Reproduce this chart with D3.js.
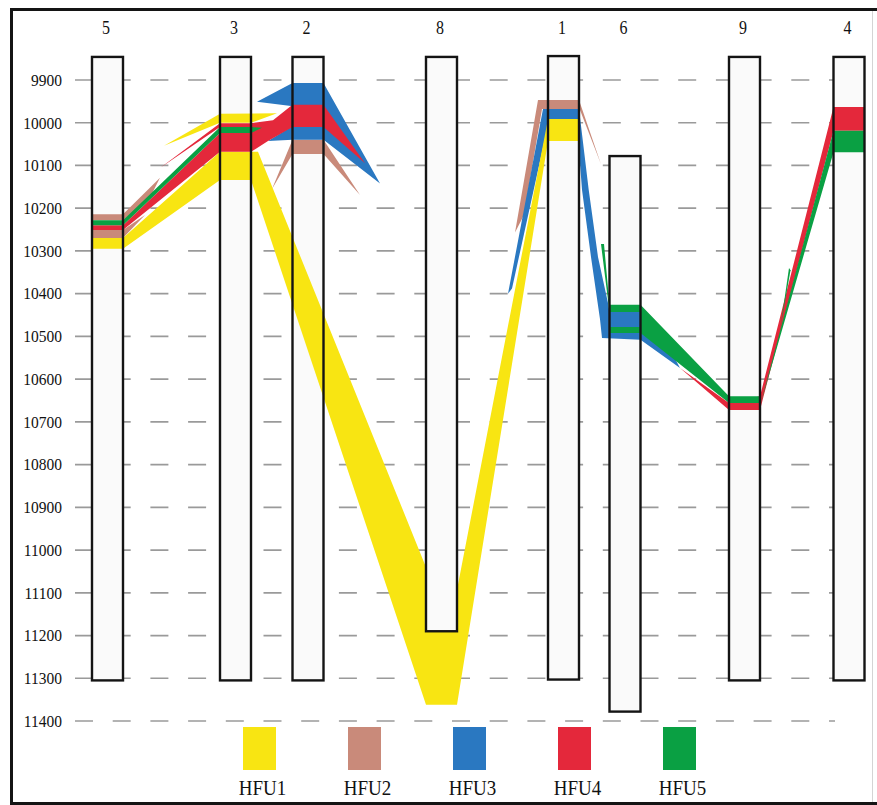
<!DOCTYPE html>
<html>
<head>
<meta charset="utf-8">
<script src="https://cdnjs.cloudflare.com/ajax/libs/d3/7.8.5/d3.min.js"></script>
<style>
  html, body { margin: 0; padding: 0; background: #ffffff; }
  svg { display: block; }
</style>
</head>
<body>
<svg id="chart" width="877" height="805"></svg>
<script>
// Wells along the section, in the order they are drawn left to right
const wellNames = ["5", "3", "2", "8", "1", "6", "9", "4"];
const wellDistanceKm = [0, 1.28, 2.005, 3.34, 4.56, 5.175, 6.37, 7.415];
const wellTopDepth = [9846, 9846, 9846, 9846, 9844, 10078, 9846, 9846];
const wellBottomDepth = [11305, 11305, 11305, 11190, 11303, 11378, 11305, 11305];

const depthTicks = [9900, 10000, 10100, 10200, 10300, 10400, 10500, 10600,
                    10700, 10800, 10900, 11000, 11100, 11200, 11300, 11400];

const unitNames = ["HFU1", "HFU2", "HFU3", "HFU4", "HFU5"];
const unitColors = ["#f8e512", "#c98a7a", "#2a78c1", "#e4283b", "#0aa043"];

// Flow-unit bodies: each polygon is a list of [position, depth].
// position is either a distance in km or a well side ("3L" = left side of well 3).
const hfu1 = [
  [["5L",10270],["5R",10270],["3L",10068],["3R",10068],[1.505,10068],["8L",11040],
   ["8L",11190],["8R",11190],["8R",11093],["1L",9991],["1R",9991],["1R",10043],
   ["1L",10043],["8R",11362],["8L",11362],["3R",10134],["3L",10134],["5R",10295],["5L",10295]],
  [[0.565,10054],["3L",9979],[1.695,9978],["3R",10000],["3L",10000]]
];
const hfu2 = [
  [["5L",10214],["5R",10214],[0.525,10129],[0.425,10175],["5R",10228],["5L",10228]],
  [["5L",10251],["5R",10251],[0.375,10216],["5R",10270],["5L",10270]],
  [[1.645,10155],["2L",10040],["2R",10040],[2.525,10169],["2R",10073],["2L",10073]],
  [[4.075,10257],[4.305,9947],["1R",9947],[4.935,10097],[4.725,9970],[4.345,9968],[4.165,10216]]
];
const hfu3 = [
  [[1.495,9951],["2L",9907],["2R",9907],[2.725,10142],["2R",10040],["2L",10040],
   [1.605,10043],[1.835,10010],[1.835,9961]],
  [[4.005,10400],[4.355,9968],["1R",9968],[4.812,10157],[4.905,10314],[5.005,10422],
   ["6L",10443],["6R",10443],[5.575,10508],[5.725,10574],["6R",10508],[4.945,10504],
   [4.925,10460],[4.835,10314],[4.745,10157],[4.695,10005],["1L",10005],[4.045,10388]]
];
const hfu4 = [
  [["5L",10240],["5R",10240],["3L",10024],["3L",10010],[0.525,10106],["3L",10001],
   ["3R",10001],[1.655,9994],["2L",9958],["2R",9958],[2.575,10095],["2R",10010],
   ["2L",10010],[1.605,10043],["3R",10068],["3L",10068],["5R",10251],["5L",10251]],
  [[5.725,10574],["9L",10656],["9R",10640],["4L",9963],["4R",9963],["4R",10019],
   ["4L",10019],["9R",10672],["9L",10672]]
];
const hfu5 = [
  [["5L",10228],["5R",10228],["3L",10010],["3R",10010],[1.545,10012],["3R",10024],
   ["3L",10024],["5R",10240],["5L",10240]],
  [[4.935,10284],[4.965,10284],["6L",10426],["6R",10426],["9L",10640],["9R",10640],
   ["9R",10656],["9L",10656],["6R",10492],["6L",10492],["6L",10478],["6R",10478],
   ["6R",10443],["6L",10443]],
  [["9R",10663],["4L",10019],["4R",10019],["4R",10069],["4L",10069]],
  [[6.725,10485],[6.815,10340],[6.83,10345]]
];

const unitPolygons = { HFU1: hfu1, HFU2: hfu2, HFU3: hfu3, HFU4: hfu4, HFU5: hfu5 };
// lower units are painted first so the later ones lie on top where they touch
const paintOrder = ["HFU2", "HFU3", "HFU1", "HFU4", "HFU5"];

// ---- layout ----
const svg = d3.select("#chart");
const wellWidth = 31;
const serif = "'Liberation Serif', 'Times New Roman', serif";

const x = d3.scaleLinear().domain([0, 7.415]).range([107.5, 849]);
const y = d3.scaleLinear().domain([9900, 11400]).range([80, 721]);
const color = d3.scaleOrdinal().domain(unitNames).range(unitColors);

const wells = wellNames.map((name, i) => ({
  name, km: wellDistanceKm[i], top: wellTopDepth[i], bottom: wellBottomDepth[i]
}));
const wellByName = new Map(wells.map(w => [w.name, w]));

function posX(p) {
  if (typeof p === "number") return x(p);
  const w = wellByName.get(p.slice(0, -1));
  return x(w.km) + (p.endsWith("L") ? -wellWidth / 2 : wellWidth / 2);
}

// frame
svg.append("path")
  .attr("d", "M11.5,805 V9.5 H877")
  .attr("fill", "none").attr("stroke", "#141414").attr("stroke-width", 3);
svg.append("line")
  .attr("x1", 11.5).attr("x2", 877).attr("y1", 803.5).attr("y2", 803.5)
  .attr("stroke", "#141414").attr("stroke-width", 3);
svg.append("line")
  .attr("x1", 872.5).attr("x2", 872.5).attr("y1", 11).attr("y2", 802)
  .attr("stroke", "#d4d4d4").attr("stroke-width", 1);

// dashed depth grid
svg.append("g").selectAll("line").data(depthTicks).join("line")
  .attr("x1", 75).attr("x2", 835)
  .attr("y1", d => y(d)).attr("y2", d => y(d))
  .attr("stroke", "#9a9a9a").attr("stroke-width", 1.7)
  .attr("stroke-dasharray", "18,19.7");

// depth axis labels
const axis = svg.append("g")
  .attr("transform", "translate(62,0)")
  .call(d3.axisLeft(y).tickValues(depthTicks).tickSize(0).tickPadding(0).tickFormat(d3.format("d")));
axis.select(".domain").remove();
axis.selectAll("text")
  .attr("font-family", serif).attr("font-size", 15.5).attr("fill", "#111")
  .attr("dy", "0.34em")
  .attr("transform", "scale(1,1.1)")
  .attr("y", 0);
axis.selectAll(".tick").each(function (d) {
  d3.select(this).attr("transform", `translate(0,${y(d)})`);
});

// well bodies (fill under the units)
svg.append("g").selectAll("rect").data(wells).join("rect")
  .attr("x", d => x(d.km) - wellWidth / 2).attr("width", wellWidth)
  .attr("y", d => y(d.top)).attr("height", d => y(d.bottom) - y(d.top))
  .attr("fill", "#fafafa");

// flow units
const line = d3.line().x(p => posX(p[0])).y(p => y(p[1]));
const unitLayer = svg.append("g");
paintOrder.forEach(u => {
  unitLayer.append("g").attr("class", u)
    .selectAll("path").data(unitPolygons[u]).join("path")
    .attr("d", pts => line(pts) + "Z")
    .attr("fill", color(u));
});

// well outlines on top
svg.append("g").selectAll("rect").data(wells).join("rect")
  .attr("x", d => x(d.km) - wellWidth / 2).attr("width", wellWidth)
  .attr("y", d => y(d.top)).attr("height", d => y(d.bottom) - y(d.top))
  .attr("fill", "none").attr("stroke", "#141414").attr("stroke-width", 2.4);

// well names
svg.append("g").selectAll("text").data(wells).join("text")
  .attr("transform", d => `translate(${x(d.km) - 1.5},34) scale(1,1.12)`)
  .attr("text-anchor", "middle")
  .attr("font-family", serif).attr("font-size", 16).attr("fill", "#111")
  .text(d => d.name);

// legend
const lx = d3.scalePoint().domain(unitNames).range([259.5, 679.5]);
const legend = svg.append("g");
legend.selectAll("rect").data(unitNames).join("rect")
  .attr("x", d => lx(d) - 16.5).attr("width", 33)
  .attr("y", 727).attr("height", 43)
  .attr("fill", d => color(d));
legend.selectAll("text").data(unitNames).join("text")
  .attr("transform", d => `translate(${lx(d) + 3},795) scale(1,1.15)`)
  .attr("text-anchor", "middle")
  .attr("font-family", serif).attr("font-size", 19).attr("fill", "#111")
  .text(d => d);
</script>
</body>
</html>
